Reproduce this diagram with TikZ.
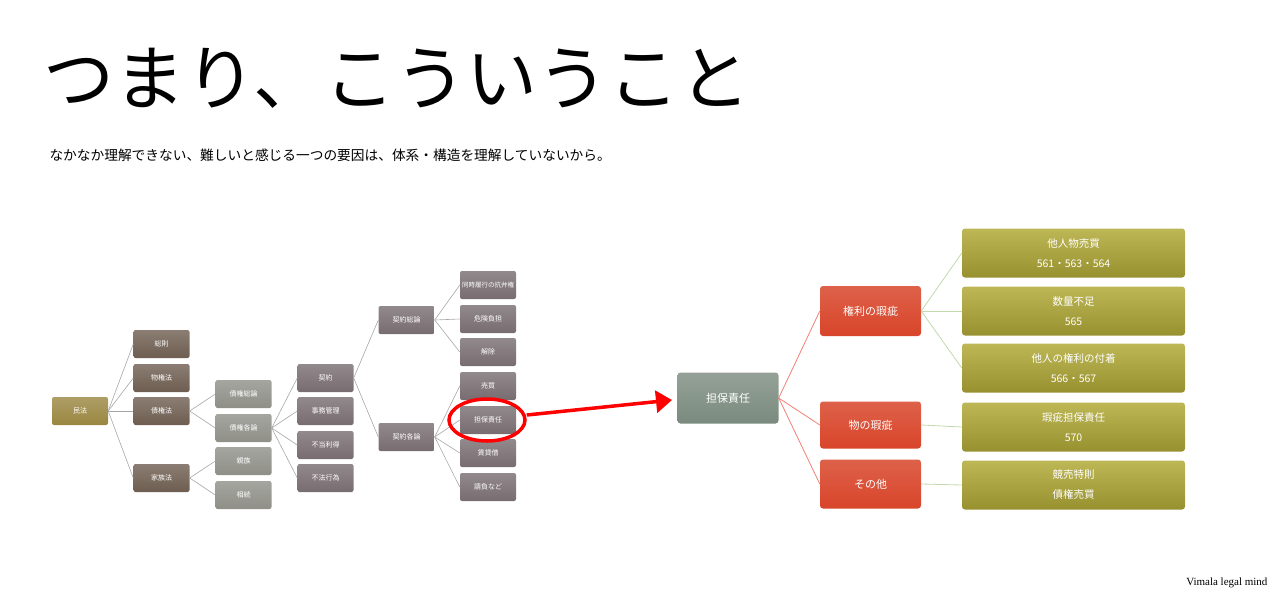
\documentclass[tikz,border=0pt]{standalone}
\usepackage{fontspec}
\usetikzlibrary{shapes.geometric,arrows.meta}
\newfontfamily\jp{Noto Sans CJK JP}
\setmainfont{Liberation Serif}
\begin{document}
\begin{tikzpicture}[x=1pt,y=-1pt,
 bx/.style={rounded corners=2pt,text=white,font=\jp\fontsize{7}{8}\selectfont,minimum height=28pt,inner sep=0pt},
 s1/.style={bx,minimum width=56pt,top color=#1!80!white,bottom color=#1},
 bg/.style={rounded corners=3pt,text=white,font=\jp\fontsize{11}{15}\selectfont,align=center,inner sep=0pt},
 ln/.style={draw=gray!70,line width=0.6pt},
 lr/.style={draw=red!50!white!80!brown,line width=0.8pt},
 lo/.style={draw=olive!40!green!30!white!90!gray,line width=0.8pt}]
\useasboundingbox (0,0) rectangle (1280,600);
\definecolor{mbr}{HTML}{6E5D50}\definecolor{mol}{HTML}{9A8640}
\definecolor{mgr}{HTML}{8F8F88}\definecolor{mmv}{HTML}{776C70}
\definecolor{mred}{HTML}{D8452A}\definecolor{myl}{HTML}{B2AA38}
\definecolor{mtg}{HTML}{7A8A7E}
\node[anchor=west,font=\jp\fontsize{71}{76}\selectfont] (t) at (40,78) {つまり、こういうこと};
\node[anchor=west,font=\jp\fontsize{13.7}{15}\selectfont] (st) at (46,155) {なかなか理解できない、難しいと感じる一つの要因は、体系・構造を理解していないから。};
\node[s1=mol] (a) at (80,411) {民法};
\node[s1=mbr] (b1) at (161.5,344) {総則};
\node[s1=mbr] (b2) at (161.5,378) {物権法};
\node[s1=mbr] (b3) at (161.5,411) {債権法};
\node[s1=mbr] (b4) at (161.5,478) {家族法};
\node[s1=mgr] (c1) at (243.5,394) {債権総論};
\node[s1=mgr] (c2) at (243.5,428) {債権各論};
\node[s1=mgr] (c3) at (243.5,461) {親族};
\node[s1=mgr] (c4) at (243.5,495) {相続};
\node[s1=mmv] (d1) at (325.5,378) {契約};
\node[s1=mmv] (d2) at (325.5,411) {事務管理};
\node[s1=mmv] (d3) at (325.5,445) {不当利得};
\node[s1=mmv] (d4) at (325.5,478) {不法行為};
\node[s1=mmv] (e1) at (406.5,320) {契約総論};
\node[s1=mmv] (e2) at (406.5,437) {契約各論};
\node[s1=mmv] (f1) at (488,285) {\fontsize{6.5}{7}\selectfont 同時履行の抗弁権};
\node[s1=mmv] (f2) at (488,319) {危険負担};
\node[s1=mmv] (f3) at (488,352) {解除};
\node[s1=mmv] (f4) at (488,386) {売買};
\node[s1=mmv] (f5) at (488,420) {担保責任};
\node[s1=mmv] (f6) at (488,453) {賃貸借};
\node[s1=mmv] (f7) at (488,487) {請負など};
\foreach \x in {b1,b2,b3,b4} \draw[ln] (a.east) -- (\x.west);
\foreach \x in {c1,c2} \draw[ln] (b3.east) -- (\x.west);
\foreach \x in {c3,c4} \draw[ln] (b4.east) -- (\x.west);
\foreach \x in {d1,d2,d3,d4} \draw[ln] (c2.east) -- (\x.west);
\foreach \x in {e1,e2} \draw[ln] (d1.east) -- (\x.west);
\foreach \x in {f1,f2,f3} \draw[ln] (e1.east) -- (\x.west);
\foreach \x in {f4,f5,f6,f7} \draw[ln] (e2.east) -- (\x.west);
\node[draw=red,line width=3.5pt,ellipse,minimum width=76pt,minimum height=42pt] (el) at (487,420) {};
\node[bg,minimum width=101pt,minimum height=51pt,top color=mtg!80!white,bottom color=mtg] (g) at (728,398) {担保責任};
\node[bg,minimum width=101pt,minimum height=50pt,top color=mred!85!white,bottom color=mred] (r1) at (870.5,311) {権利の瑕疵};
\node[bg,minimum width=101pt,minimum height=47pt,top color=mred!85!white,bottom color=mred] (r2) at (870.5,425) {物の瑕疵};
\node[bg,minimum width=101pt,minimum height=49pt,top color=mred!85!white,bottom color=mred] (r3) at (870.5,484) {その他};
\tikzset{ob/.style={bg,minimum width=223pt,minimum height=49pt,top color=myl!85!white,bottom color=myl!85!black,font=\jp\fontsize{10.5}{20}\selectfont}}
\node[ob] (o1) at (1073.5,253) {他人物売買\\561・563・564};
\node[ob] (o2) at (1073.5,311) {数量不足\\565};
\node[ob] (o3) at (1073.5,368) {他人の権利の付着\\566・567};
\node[ob] (o4) at (1073.5,427) {瑕疵担保責任\\570};
\node[ob] (o5) at (1073.5,485) {競売特則\\債権売買};
\coordinate (ae) at (672,400);
\draw[red,line width=3.5pt,-{Triangle[length=16pt,width=22pt]}] ([yshift=5pt]el.east) -- (ae);
\foreach \x in {r1,r2,r3} \draw[lr] (g.east) -- (\x.west);
\foreach \x in {o1,o2,o3} \draw[lo] (r1.east) -- (\x.west);
\draw[lo] (r2.east) -- (o4.west);
\draw[lo] (r3.east) -- (o5.west);
\node[anchor=east,font=\fontsize{11}{12}\selectfont] (v) at (1271,583) {Vimala legal mind};
\end{tikzpicture}
\end{document}
